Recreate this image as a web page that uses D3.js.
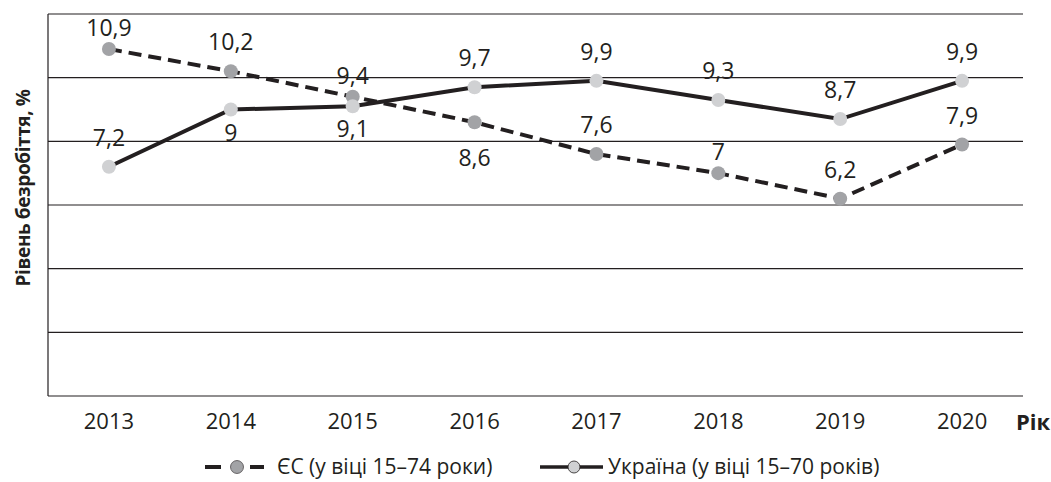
<!DOCTYPE html>
<html><head><meta charset="utf-8">
<script src="https://cdn.jsdelivr.net/npm/d3@7"></script>
<style>body{margin:0;background:#fff}text{font-family:"Open Sans",sans-serif;fill:#231f20}</style>
</head><body><svg id="c" width="1051" height="482"></svg>
<script>
const years = ["2013","2014","2015","2016","2017","2018","2019","2020"];
const euValues = [10.9, 10.2, 9.4, 8.6, 7.6, 7, 6.2, 7.9];
const uaValues = [7.2, 9, 9.1, 9.7, 9.9, 9.3, 8.7, 9.9];
const euLabelPos = ["near","above","near","far-below","above","near","above","above"];
const uaLabelPos = ["above","below","below","above","above","above","above","above"];
const yTicks = [0, 2, 4, 6, 8, 10, 12];
const seriesNames = ["ЄС (у віці 15–74 роки)", "Україна (у віці 15–70 років)"];

const svg = d3.select("#c");
const L = 48, R = 1023, T = 14, B = 396;
const x = d3.scalePoint().domain(years).range([L, R]).padding(0.5);
const y = d3.scaleLinear().domain([0, 12]).range([B, T]);
const labelDy = {"near": -13, "above": -21, "below": 31, "far-below": 44};

// gridlines
svg.append("g").selectAll("line").data(yTicks).join("line")
  .attr("x1", L).attr("x2", R).attr("y1", d => y(d)).attr("y2", d => y(d))
  .attr("stroke", "#231f20").attr("stroke-width", 1.2);
svg.append("line").attr("x1", L).attr("x2", L).attr("y1", T).attr("y2", B)
  .attr("stroke", "#231f20").attr("stroke-width", 1.2);

// x axis labels
svg.append("g").selectAll("text").data(years).join("text")
  .attr("x", d => x(d)).attr("y", 429).attr("text-anchor", "middle")
  .attr("font-size", 22).text(d => d);
svg.append("text").attr("x", 1016).attr("y", 430).attr("font-size", 22)
  .attr("font-weight", "bold").text("Рік");
svg.append("text").attr("transform", "translate(30,188) rotate(-90)")
  .attr("text-anchor", "middle").attr("font-size", 19).attr("font-weight", "bold")
  .attr("letter-spacing", -0.4)
  .text("Рівень безробіття, %");

const line = d3.line().x((d, i) => x(years[i])).y(d => y(d));
svg.append("path").datum(euValues).attr("d", line).attr("fill", "none")
  .attr("stroke", "#231f20").attr("stroke-width", 4).attr("stroke-dasharray", "13,7");
svg.append("path").datum(uaValues).attr("d", line).attr("fill", "none")
  .attr("stroke", "#231f20").attr("stroke-width", 4);

function points(vals, fill, pos) {
  svg.append("g").selectAll("circle").data(vals).join("circle")
    .attr("cx", (d, i) => x(years[i])).attr("cy", d => y(d)).attr("r", 7).attr("fill", fill);
  svg.append("g").selectAll("text").data(vals).join("text")
    .attr("x", (d, i) => x(years[i]))
    .attr("y", (d, i) => y(d) + labelDy[pos[i]])
    .attr("text-anchor", "middle").attr("font-size", 23)
    .text(d => String(d).replace(".", ","));
}
points(euValues, "#a2a3a6", euLabelPos);
points(uaValues, "#d0d1d3", uaLabelPos);

// legend
const lg = svg.append("g");
lg.append("line").attr("x1", 205).attr("x2", 264).attr("y1", 467).attr("y2", 467)
  .attr("stroke", "#231f20").attr("stroke-width", 4).attr("stroke-dasharray", "16,29,14");
lg.append("circle").attr("cx", 237).attr("cy", 467).attr("r", 6.5).attr("fill", "#a2a3a6").attr("stroke", "#231f20").attr("stroke-width", 0.6);
lg.append("text").attr("x", 277).attr("y", 474).attr("font-size", 21).text(seriesNames[0]);
lg.append("line").attr("x1", 540).attr("x2", 603).attr("y1", 467).attr("y2", 467)
  .attr("stroke", "#231f20").attr("stroke-width", 3.5);
lg.append("circle").attr("cx", 574).attr("cy", 467).attr("r", 6).attr("fill", "#d0d1d3").attr("stroke", "#231f20").attr("stroke-width", 0.8);
lg.append("text").attr("x", 608).attr("y", 474).attr("font-size", 21).text(seriesNames[1]);
</script></body></html>
